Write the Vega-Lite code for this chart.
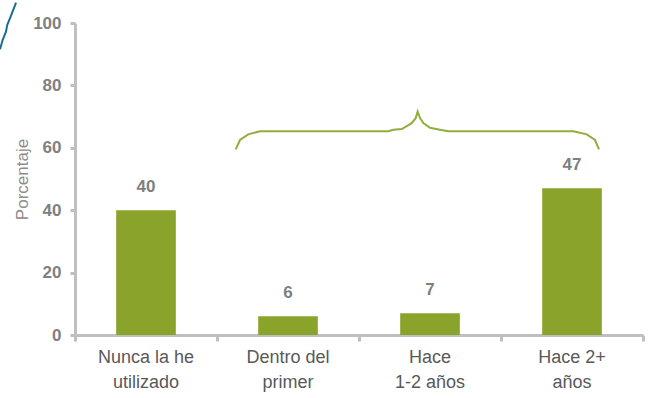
{
  "$schema": "https://vega.github.io/schema/vega-lite/v6.json",
  "autosize": {"type": "none"},
  "padding": {"left": 75, "top": 23, "right": 14, "bottom": 63},
  "width": 568,
  "height": 312,
  "background": "white",
  "config": {"view": {"stroke": null}, "font": "Liberation Sans"},
  "datasets": {
    "bars": [
      {"cat": "Nunca la he|utilizado", "pct": 40},
      {"cat": "Dentro del|primer", "pct": 6},
      {"cat": "Hace|1-2 años", "pct": 7},
      {"cat": "Hace 2+|años", "pct": 47}
    ],
    "lines": [
      {"series": "brace", "ord": 1, "x": 1.132, "y": 59.5},
      {"series": "brace", "ord": 2, "x": 1.162, "y": 62.5},
      {"series": "brace", "ord": 3, "x": 1.220, "y": 64.3},
      {"series": "brace", "ord": 4, "x": 1.303, "y": 65.3},
      {"series": "brace", "ord": 5, "x": 2.206, "y": 65.3},
      {"series": "brace", "ord": 6, "x": 2.242, "y": 65.8},
      {"series": "brace", "ord": 7, "x": 2.301, "y": 66.0},
      {"series": "brace", "ord": 8, "x": 2.371, "y": 67.9},
      {"series": "brace", "ord": 9, "x": 2.399, "y": 69.5},
      {"series": "brace", "ord": 10, "x": 2.413, "y": 71.6},
      {"series": "brace", "ord": 11, "x": 2.430, "y": 69.5},
      {"series": "brace", "ord": 12, "x": 2.453, "y": 67.9},
      {"series": "brace", "ord": 13, "x": 2.500, "y": 66.4},
      {"series": "brace", "ord": 14, "x": 2.570, "y": 65.8},
      {"series": "brace", "ord": 15, "x": 2.629, "y": 65.3},
      {"series": "brace", "ord": 16, "x": 3.509, "y": 65.3},
      {"series": "brace", "ord": 17, "x": 3.604, "y": 64.3},
      {"series": "brace", "ord": 18, "x": 3.662, "y": 62.5},
      {"series": "brace", "ord": 19, "x": 3.690, "y": 59.5},
      {"series": "teal", "ord": 1, "x": -0.528, "y": 91.6},
      {"series": "teal", "ord": 2, "x": -0.509, "y": 94.6},
      {"series": "teal", "ord": 3, "x": -0.486, "y": 97.2},
      {"series": "teal", "ord": 4, "x": -0.477, "y": 99.4},
      {"series": "teal", "ord": 5, "x": -0.458, "y": 101.5},
      {"series": "teal", "ord": 6, "x": -0.435, "y": 104.2},
      {"series": "teal", "ord": 7, "x": -0.415, "y": 106.5}
    ]
  },
  "layer": [
    {
      "data": {"name": "bars"},
      "encoding": {
        "x": {
          "field": "cat", "type": "nominal", "sort": null,
          "scale": {"paddingInner": 0.58, "paddingOuter": 0.29},
          "axis": {
            "title": null, "orient": "bottom", "domain": false, "ticks": false,
            "labelAngle": 0, "labelExpr": "split(datum.label, '|')",
            "labelFontSize": 18, "labelColor": "#595959", "labelLineHeight": 25,
            "labelPadding": 13
          }
        },
        "y": {
          "field": "pct", "type": "quantitative",
          "scale": {"domain": [0, 100], "nice": false},
          "axis": {
            "title": "Porcentaje", "values": [0, 20, 40, 60, 80, 100],
            "grid": false, "domainColor": "#bfbfbf", "domainWidth": 3,
            "tickColor": "#bfbfbf", "tickWidth": 3, "tickSize": 5,
            "labelFontSize": 17, "labelFontWeight": "bold", "labelColor": "#808080",
            "labelPadding": 9,
            "titleFontSize": 17, "titleFontWeight": "normal", "titleColor": "#8c8c8c",
            "titlePadding": 1
          }
        }
      },
      "layer": [
        {"mark": {"type": "bar", "color": "#8aa32a"}},
        {
          "mark": {"type": "text", "dy": -23, "baseline": "middle", "fontSize": 17, "fontWeight": "bold", "color": "#7f7f7f"},
          "encoding": {"text": {"field": "pct", "type": "quantitative"}}
        }
      ]
    },
    {
      "data": {"name": "lines"},
      "mark": {"type": "line", "strokeWidth": 2, "clip": false},
      "encoding": {
        "x": {
          "field": "x", "type": "quantitative",
          "scale": {"domain": [0, 4], "nice": false, "zero": false},
          "axis": {
            "title": null, "orient": "bottom", "values": [0, 1, 2, 3, 4],
            "labels": false, "grid": false,
            "domainColor": "#bfbfbf", "domainWidth": 3,
            "tickColor": "#bfbfbf", "tickWidth": 3, "tickSize": 6
          }
        },
        "y": {"field": "y", "type": "quantitative"},
        "order": {"field": "ord", "type": "quantitative"},
        "color": {
          "field": "series", "type": "nominal", "legend": null,
          "scale": {"domain": ["brace", "teal"], "range": ["#92ad3c", "#1a6f8f"]}
        }
      }
    }
  ],
  "resolve": {"scale": {"x": "independent"}, "axis": {"x": "independent"}}
}
